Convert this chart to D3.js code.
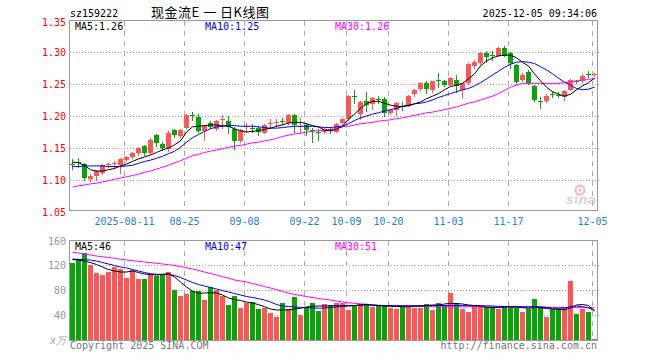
<!DOCTYPE html>
<html>
<head>
<meta charset="utf-8">
<script src="https://cdn.jsdelivr.net/npm/d3@7/dist/d3.min.js"></script>
<style>
    body { margin: 0; background: #fff; }
    svg text { font-family: "DejaVu Sans Mono", "Liberation Mono", monospace; font-size: 10px; }
</style>
</head>
<body>
<svg id="chart" width="660" height="360"></svg>
<script>
// trading days shown on the chart
let dates = [
    "2025-07-29","2025-07-30","2025-07-31","2025-08-01","2025-08-04","2025-08-05","2025-08-06","2025-08-07","2025-08-08",
    "2025-08-11","2025-08-12","2025-08-13","2025-08-14","2025-08-15","2025-08-18","2025-08-19","2025-08-20","2025-08-21","2025-08-22",
    "2025-08-25","2025-08-26","2025-08-27","2025-08-28","2025-08-29","2025-09-01","2025-09-02","2025-09-03","2025-09-04","2025-09-05",
    "2025-09-08","2025-09-09","2025-09-10","2025-09-11","2025-09-12","2025-09-15","2025-09-16","2025-09-17","2025-09-18","2025-09-19",
    "2025-09-22","2025-09-23","2025-09-24","2025-09-25","2025-09-26","2025-09-29","2025-09-30",
    "2025-10-09","2025-10-10","2025-10-13","2025-10-14","2025-10-15","2025-10-16","2025-10-17",
    "2025-10-20","2025-10-21","2025-10-22","2025-10-23","2025-10-24","2025-10-27","2025-10-28","2025-10-29","2025-10-30","2025-10-31",
    "2025-11-03","2025-11-04","2025-11-05","2025-11-06","2025-11-07","2025-11-10","2025-11-11","2025-11-12","2025-11-13","2025-11-14",
    "2025-11-17","2025-11-18","2025-11-19","2025-11-20","2025-11-21","2025-11-24","2025-11-25","2025-11-26","2025-11-27","2025-11-28",
    "2025-12-01","2025-12-02","2025-12-03","2025-12-04","2025-12-05"
];

let openP = [1.125,1.128,1.125,1.102,1.106,1.111,1.123,1.125,1.123,1.131,1.136,1.142,1.153,1.142,1.170,1.156,1.148,1.178,1.168,1.182,
    1.202,1.198,1.176,1.189,1.180,1.193,1.192,1.180,1.161,1.182,1.182,1.181,1.174,1.188,1.189,1.192,1.189,1.202,1.183,1.186,
    1.178,1.175,1.176,1.180,1.176,1.188,1.195,1.231,1.204,1.223,1.218,1.227,1.226,1.204,1.209,1.216,1.216,1.233,1.241,1.251,
    1.240,1.257,1.254,1.248,1.257,1.240,1.251,1.277,1.283,1.299,1.296,1.295,1.307,1.298,1.280,1.256,1.269,1.247,1.224,1.223,
    1.234,1.233,1.230,1.242,1.255,1.254,1.266,1.264];
let highP = [1.133,1.134,1.127,1.109,1.116,1.125,1.127,1.130,1.134,1.138,1.144,1.152,1.155,1.166,1.172,1.159,1.177,1.180,1.180,1.203,
    1.206,1.203,1.186,1.192,1.194,1.202,1.200,1.183,1.180,1.189,1.188,1.184,1.188,1.195,1.195,1.197,1.203,1.203,1.197,1.189,
    1.181,1.180,1.181,1.181,1.189,1.197,1.233,1.241,1.223,1.238,1.230,1.231,1.230,1.211,1.222,1.222,1.233,1.242,1.252,1.255,
    1.255,1.267,1.256,1.261,1.264,1.252,1.283,1.288,1.300,1.302,1.302,1.308,1.309,1.300,1.281,1.267,1.272,1.248,1.230,1.234,
    1.237,1.238,1.241,1.258,1.257,1.266,1.271,1.267];
let lowP = [1.117,1.120,1.100,1.098,1.100,1.110,1.120,1.119,1.111,1.130,1.134,1.139,1.139,1.141,1.153,1.147,1.145,1.167,1.167,1.181,
    1.194,1.175,1.162,1.181,1.178,1.181,1.173,1.148,1.160,1.175,1.175,1.170,1.173,1.183,1.184,1.188,1.188,1.175,1.175,1.170,
    1.159,1.163,1.173,1.173,1.175,1.186,1.194,1.220,1.195,1.208,1.211,1.220,1.200,1.203,1.201,1.209,1.215,1.231,1.240,1.236,
    1.238,1.245,1.247,1.247,1.238,1.228,1.250,1.275,1.282,1.284,1.288,1.294,1.294,1.275,1.250,1.255,1.250,1.224,1.213,1.222,
    1.230,1.229,1.225,1.241,1.251,1.253,1.261,1.262];
let closeP = [1.123,1.127,1.103,1.106,1.114,1.123,1.125,1.127,1.133,1.136,1.142,1.150,1.142,1.163,1.158,1.150,1.173,1.170,1.178,1.202,
    1.201,1.176,1.184,1.183,1.192,1.195,1.182,1.162,1.178,1.184,1.180,1.174,1.186,1.189,1.191,1.191,1.202,1.186,1.184,1.178,
    1.176,1.173,1.180,1.177,1.188,1.195,1.231,1.230,1.222,1.216,1.228,1.226,1.204,1.209,1.220,1.215,1.231,1.240,1.251,1.241,
    1.254,1.255,1.248,1.259,1.248,1.251,1.281,1.284,1.299,1.292,1.295,1.307,1.295,1.282,1.253,1.264,1.252,1.225,1.223,1.231,
    1.233,1.231,1.239,1.257,1.254,1.262,1.264,1.265];

let ma5 = [1.128,1.127,1.123,1.116,1.114,1.114,1.116,1.118,1.122,1.125,1.129,1.133,1.136,1.139,1.143,1.147,1.150,1.155,1.161,1.175,
    1.183,1.184,1.185,1.186,1.186,1.185,1.184,1.180,1.177,1.175,1.176,1.177,1.179,1.181,1.184,1.186,1.189,1.190,1.190,1.188,
    1.185,1.183,1.178,1.177,1.179,1.184,1.195,1.203,1.212,1.219,1.223,1.223,1.220,1.217,1.215,1.215,1.216,1.219,1.222,1.227,
    1.231,1.235,1.241,1.246,1.248,1.251,1.258,1.266,1.278,1.286,1.291,1.294,1.295,1.295,1.291,1.284,1.278,1.266,1.255,1.245,
    1.238,1.234,1.231,1.234,1.241,1.247,1.252,1.259];
let ma10 = [1.121,1.121,1.122,1.122,1.122,1.122,1.121,1.121,1.121,1.122,1.123,1.126,1.129,1.131,1.134,1.137,1.141,1.145,1.151,1.159,
    1.166,1.171,1.176,1.180,1.183,1.184,1.185,1.185,1.184,1.184,1.184,1.183,1.182,1.181,1.181,1.182,1.183,1.184,1.184,1.184,
    1.184,1.183,1.182,1.182,1.183,1.184,1.188,1.193,1.197,1.200,1.203,1.205,1.208,1.210,1.212,1.215,1.217,1.219,1.220,1.222,
    1.225,1.229,1.232,1.235,1.238,1.241,1.243,1.247,1.252,1.258,1.264,1.270,1.276,1.281,1.284,1.285,1.284,1.282,1.277,1.272,
    1.266,1.259,1.253,1.248,1.243,1.241,1.242,1.245];
let ma30 = [1.089,1.091,1.092,1.094,1.095,1.097,1.099,1.101,1.103,1.105,1.107,1.109,1.112,1.114,1.117,1.120,1.123,1.127,1.130,1.134,
    1.138,1.140,1.143,1.145,1.147,1.149,1.151,1.153,1.154,1.156,1.158,1.159,1.161,1.163,1.165,1.168,1.170,1.172,1.173,1.175,
    1.176,1.177,1.178,1.179,1.181,1.183,1.184,1.186,1.188,1.189,1.190,1.192,1.193,1.194,1.196,1.197,1.199,1.201,1.203,1.205,
    1.206,1.208,1.210,1.212,1.214,1.217,1.220,1.222,1.225,1.228,1.231,1.235,1.240,1.245,1.248,1.251,1.251,1.251,1.251,1.251,
    1.251,1.251,1.252,1.253,1.255,1.256,1.257,1.259];

// volume in 万 (10k)
let volume = [123,130,139,120,108,104.5,109,117,114,100,112,97.6,97.6,105,102.5,105,109.3,80,70.4,73.6,
    79,79,64,85,80,70.6,56,70.6,51.7,60,60.3,49.6,51.7,44,37.3,59.7,49.3,69.3,40.2,53.3,
    59.7,47,57.8,56,59.7,59.7,48,54,58,58,53.3,56.5,56.5,51.7,49.6,53.3,53.3,51,50.7,57.6,
    48,59.7,56,75.7,59.7,49.6,45.3,54.4,54.4,53.3,53.3,49.6,53.3,53.3,51.7,45.3,49.6,65.6,53.3,37.3,
    49.6,49.6,50.7,94.9,41.6,49.6,45.3,1.6];
let vma5 = [128.8,128,126.4,124,120.8,116.8,112.8,110.4,108.8,108.8,110.4,108,105.6,104.8,104,104.8,106.4,100.8,92.8,84.8,
    78.4,74.7,75.2,75.7,75.2,72,67.2,64.8,63.2,60.8,59.2,56.5,53.3,49.6,48,48,48,49.6,50.7,52.8,
    53.9,54.4,54.4,54.7,54.9,54.9,54.9,55.2,56,57.1,56,55.2,54.4,53.9,53.6,53.3,53.3,53.9,54.4,55.2,
    56,56,57.6,58.7,58.4,57.6,56,55.2,54.4,52.3,51.7,52,52.8,53.3,52.8,51.7,50.7,52,51.7,50.4,
    49.6,49.1,48.5,51.2,56,56.8,55.2,46.6];
let vma10 = [129.6,129.1,128.5,128,126.4,124,121.6,119.2,116.8,115.2,112.8,110.4,108,106.1,105.1,105.1,105.1,103.2,100,96,
    92,88.8,86.4,84,81.6,79.2,76.8,74.4,72,69.6,68,66.1,64,60.8,56.8,54.4,53.6,52.8,52.3,51.7,
    51.2,50.9,51.2,52,52.8,53.6,54.4,55.2,56,56,55.5,55.2,54.9,54.9,54.9,54.9,54.9,54.9,54.9,54.9,
    55.2,55.2,55.2,55.2,55.2,55.2,54.9,54.9,54.9,54.7,54.4,53.9,53.6,53.3,53.3,53.3,53.3,53.3,53.3,52.3,
    51.2,50.7,51.2,53.6,54.4,53.6,51.2,47.3];
let vma30 = [140.3,139.2,137.6,136,134.4,133.1,132,130.7,129.3,128,126.9,125.9,124.8,123.7,122.7,121.6,120.5,119.2,117.6,115.7,
    113.6,111.2,108.8,106.4,104,101.3,98.7,96,94.4,92.8,90.4,88,85.6,83.2,80.5,77.9,75.2,72.8,71.2,69.6,
    68,66.4,65.1,64,62.4,60.8,59.7,58.7,57.9,57.1,56.3,55.7,55.2,54.7,54.4,54.2,54.1,53.9,53.8,53.6,
    53.4,53.3,53.3,53.2,53.2,53.1,53.1,53,53,52.9,52.8,52.7,52.7,52.6,52.6,52.5,52.5,52.4,52.4,52.3,
    52.3,52.2,52.1,52,51.9,51.8,51.7,51.6];

let tickDates = ["2025-08-11","2025-08-25","2025-09-08","2025-09-22","2025-10-09","2025-10-20","2025-11-03","2025-11-17","2025-12-05"];
let tickLabels = ["2025-08-11","08-25","09-08","09-22","10-09","10-20","11-03","11-17","12-05"];
let priceTicks = [1.05, 1.10, 1.15, 1.20, 1.25, 1.30, 1.35];
let volTicks = [40, 80, 120, 160];

const RED = "#ff5555", GREEN = "#08a408", GRID = "#aaa", FRAME = "#999";

let svg = d3.select("#chart");

let x = d3.scaleBand().domain(dates).range([69.5, 597.5]).paddingInner(1 / 6).paddingOuter(1 / 12);
let yP = d3.scaleLinear().domain([1.05, 1.35]).range([212, 20]);
let yV = d3.scaleLinear().domain([0, 160]).range([340, 240]);
let mid = d => x(d) + x.bandwidth() / 2;

function up(i) { return closeP[i] >= openP[i]; }

// ---------- grid ----------
function drawGrid(y0, y1, hTicks, yScale) {
    let g = svg.append("g").attr("shape-rendering", "crispEdges");
    g.selectAll(".hg").data(hTicks).join("line")
        .attr("x1", 70).attr("x2", 599)
        .attr("y1", d => Math.round(yScale(d)) + 0.5).attr("y2", d => Math.round(yScale(d)) + 0.5)
        .attr("stroke", GRID).attr("stroke-dasharray", "1,2");
    g.selectAll(".vg").data(tickDates).join("line")
        .attr("x1", d => x(d) + 0.5).attr("x2", d => x(d) + 0.5)
        .attr("y1", y0).attr("y2", y1)
        .attr("stroke", GRID).attr("stroke-dasharray", "5,5");
}
drawGrid(21, 210, [1.10, 1.15, 1.20, 1.25, 1.30], yP);
drawGrid(241, 340, [40, 80, 120], yV);

// ---------- candles ----------
let cg = svg.append("g").attr("shape-rendering", "crispEdges");
cg.selectAll(".wick").data(dates).join("line")
    .attr("x1", d => mid(d)).attr("x2", d => mid(d))
    .attr("y1", (d, i) => Math.round(yP(highP[i])))
    .attr("y2", (d, i) => Math.round(yP(lowP[i])) + 1)
    .attr("stroke", (d, i) => up(i) ? RED : GREEN);
cg.selectAll(".body").data(dates).join("rect")
    .attr("x", d => x(d))
    .attr("width", x.bandwidth())
    .attr("y", (d, i) => Math.round(yP(Math.max(openP[i], closeP[i]))))
    .attr("height", (d, i) => Math.max(1, Math.round(Math.abs(yP(openP[i]) - yP(closeP[i])))))
    .attr("fill", (d, i) => up(i) ? RED : GREEN);

// ---------- volume bars ----------
svg.append("g").attr("shape-rendering", "crispEdges")
    .selectAll("rect").data(dates).join("rect")
    .attr("x", d => x(d))
    .attr("width", x.bandwidth())
    .attr("y", (d, i) => Math.round(yV(volume[i])))
    .attr("height", (d, i) => 340 - Math.round(yV(volume[i])))
    .attr("fill", (d, i) => up(i) ? RED : GREEN);

// ---------- moving averages ----------
function maLine(values, yScale, color) {
    let line = d3.line()
        .x((d, i) => mid(dates[i]))
        .y(d => yScale(d));
    svg.append("path")
        .attr("d", line(values))
        .attr("fill", "none")
        .attr("stroke", color)
        .attr("stroke-width", 1);
}
maLine(ma30, yP, "#ff00ff");
maLine(ma10, yP, "#0000ff");
maLine(ma5, yP, "#000");
maLine(vma30, yV, "#ff00ff");
maLine(vma10, yV, "#0000ff");
maLine(vma5, yV, "#000");

// ---------- frames ----------
svg.append("rect").attr("x", 69.5).attr("y", 20.5).attr("width", 528).attr("height", 190)
    .attr("fill", "none").attr("stroke", FRAME).attr("shape-rendering", "crispEdges");
svg.append("rect").attr("x", 69.5).attr("y", 240.5).attr("width", 528).attr("height", 100)
    .attr("fill", "none").attr("stroke", FRAME).attr("shape-rendering", "crispEdges");

// ---------- axis labels ----------
svg.selectAll(".pl").data(priceTicks).join("text")
    .attr("x", 66).attr("y", d => Math.max(yP(d), 22)).attr("dy", "0.35em")
    .attr("text-anchor", "end").attr("fill", "#f00")
    .text(d => d.toFixed(2));
svg.selectAll(".vl").data(volTicks).join("text")
    .attr("x", 66).attr("y", d => Math.max(yV(d), 241)).attr("dy", "0.35em")
    .attr("text-anchor", "end").attr("fill", "#999")
    .text(d => d);
svg.append("text").attr("x", 66).attr("y", 340).attr("dy", "0.35em")
    .attr("text-anchor", "end").attr("fill", "#aaa").attr("font-style", "italic")
    .text("x万");
svg.selectAll(".dl").data(tickDates).join("text")
    .attr("x", d => x(d) + 0.5).attr("y", 221).attr("dy", "0.35em")
    .attr("text-anchor", "middle").attr("fill", "#1a7fd6")
    .text((d, i) => tickLabels[i]);

// ---------- header & legends ----------
svg.append("text").attr("x", 70).attr("y", 17).attr("fill", "#000").text("sz159222");
svg.append("text").attr("x", 151).attr("y", 17).attr("fill", "#000")
    .style("font-family", "'Noto Sans CJK SC', sans-serif").style("font-size", "13px")
    .attr("textLength", 118)
    .text("现金流E 一 日K线图");
svg.append("text").attr("x", 597).attr("y", 17).attr("text-anchor", "end").attr("fill", "#000")
    .text("2025-12-05 09:34:06");

function legend(y, items) {
    svg.selectAll(null).data(items).join("text")
        .attr("x", d => d[0]).attr("y", y)
        .attr("fill", d => d[2])
        .text(d => d[1]);
}
legend(30, [[75, "MA5:1.26", "#000"], [205, "MA10:1.25", "#0000ff"], [335, "MA30:1.26", "#ff00ff"]]);
legend(250, [[75, "MA5:46", "#000"], [205, "MA10:47", "#0000ff"], [335, "MA30:51", "#ff00ff"]]);

svg.append("text").attr("x", 70).attr("y", 349).attr("fill", "#777").text("Copyright 2025 SINA.COM");
svg.append("text").attr("x", 597).attr("y", 349).attr("text-anchor", "end").attr("fill", "#777")
    .text("http://finance.sina.com.cn");

// sina watermark
let wm = svg.append("g").attr("opacity", 0.55);
wm.append("circle").attr("cx", 580).attr("cy", 190).attr("r", 4.5).attr("fill", "none").attr("stroke", "#f08080").attr("stroke-width", 2);
wm.append("circle").attr("cx", 580).attr("cy", 190).attr("r", 1.5).attr("fill", "#f08080");
wm.append("text").attr("x", 566).attr("y", 204)
    .style("font-family", "'DejaVu Sans', sans-serif").style("font-size", "13px")
    .attr("font-style", "italic").attr("font-weight", "bold").attr("fill", "#bbb")
    .text("sina");
</script>
</body>
</html>
